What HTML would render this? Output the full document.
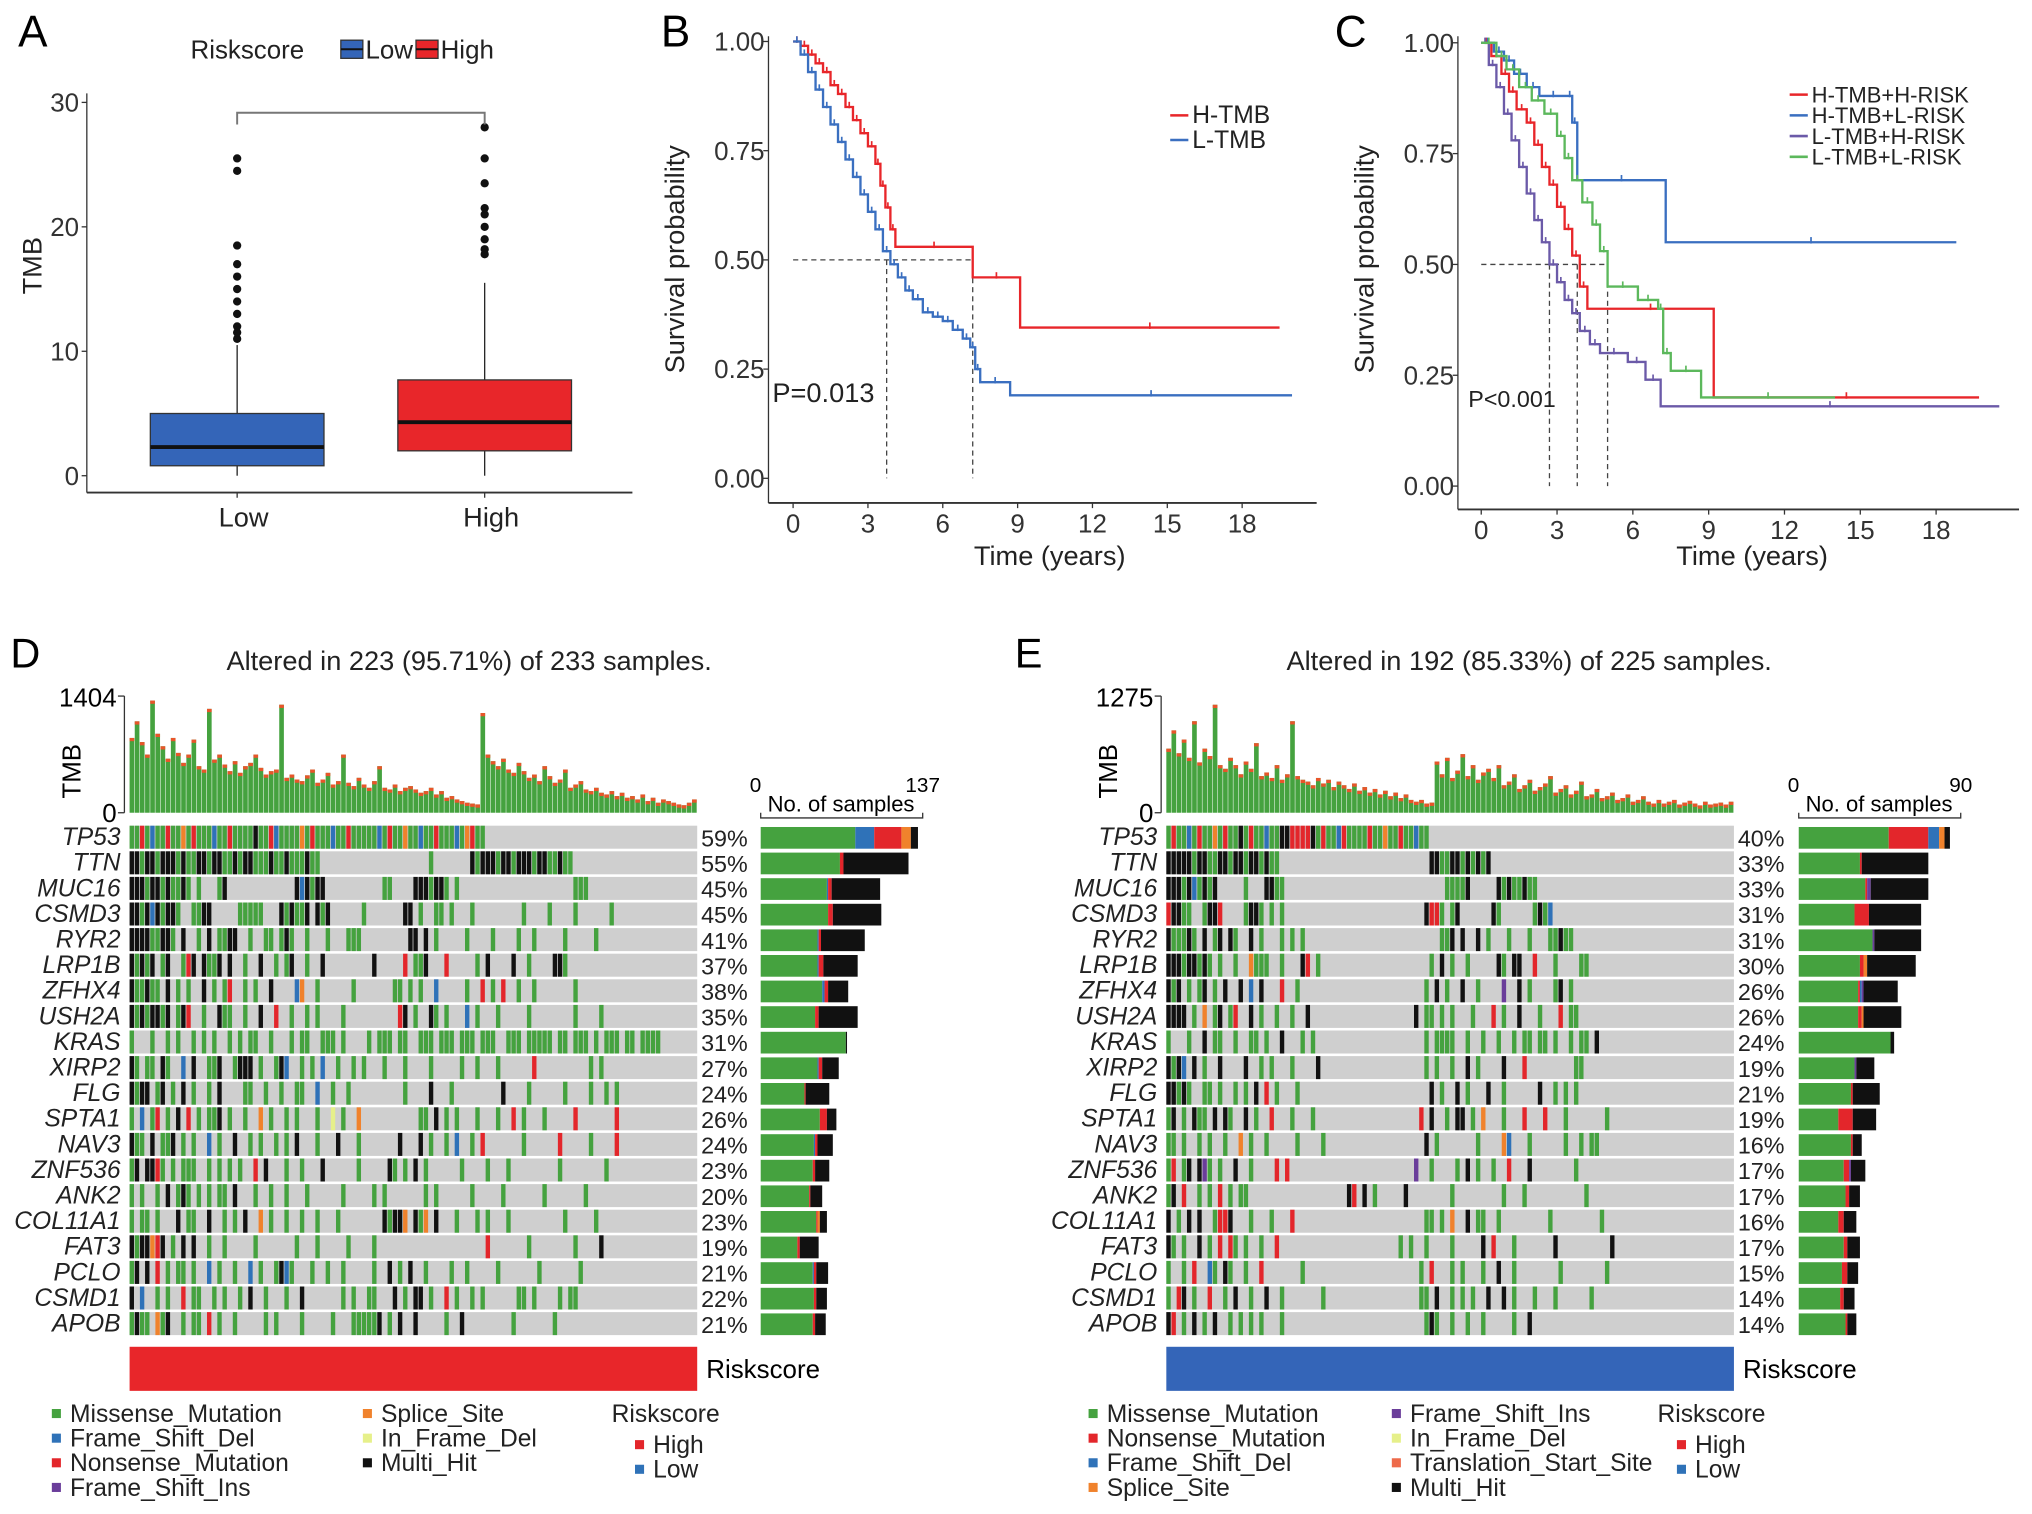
<!DOCTYPE html>
<html><head><meta charset="utf-8"><style>
html,body{margin:0;padding:0;background:#fff;}
svg{display:block;font-family:"Liberation Sans",Arial,sans-serif;}
</style></head><body>
<svg id="fig" width="2032" height="1514" viewBox="0 0 1568 1168" preserveAspectRatio="none" xmlns="http://www.w3.org/2000/svg">
<rect x="0" y="0" width="1568" height="1168" fill="#fff"/>
<g id="A"></g>
<g id="B"></g>
<g id="C"></g>
<g id="D"></g>
<g id="E"></g>
</svg>
<script>
// ---------- Panel A data ----------
const boxGroups = ["Low","High"];
const boxQ1 = [0.8, 2.0];
const boxMed = [2.3, 4.3];
const boxQ3 = [5.0, 7.7];
const boxWhiskLo = [0, 0];
const boxWhiskHi = [10.5, 15.5];
const boxOutliersLow = [11,11.5,12,13,14,15,16,17,18.5,24.5,25.5];
const boxOutliersHigh = [17.8,18.2,19,20,21,21.5,23.5,25.5,28];
const boxYTicks = [0,10,20,30];

// ---------- Panel B data ----------
const bTicksX = [0,3,6,9,12,15,18];
const bTicksY = [0,0.25,0.5,0.75,1.0];
const bHT = [0,1.0, 0.3,0.99, 0.6,0.97, 0.9,0.95, 1.2,0.93, 1.5,0.90, 1.8,0.88, 2.1,0.85, 2.4,0.82, 2.7,0.79, 3.0,0.76, 3.3,0.72, 3.5,0.67, 3.7,0.62, 3.9,0.57, 4.1,0.53, 7.2,0.46, 9.1,0.345, 19.5,0.345];
const bLT = [0,1.0, 0.3,0.97, 0.6,0.93, 0.9,0.89, 1.2,0.85, 1.5,0.81, 1.8,0.77, 2.1,0.73, 2.4,0.69, 2.7,0.65, 3.0,0.61, 3.3,0.57, 3.6,0.52, 3.9,0.49, 4.2,0.46, 4.5,0.43, 4.8,0.41, 5.2,0.38, 5.6,0.37, 6.0,0.36, 6.4,0.34, 6.8,0.32, 7.1,0.30, 7.3,0.25, 7.5,0.22, 8.7,0.19, 20,0.19];

// ---------- Panel C data ----------
const cHH = [0,1.0, 0.4,0.97, 0.8,0.93, 1.1,0.89, 1.4,0.85, 1.8,0.82, 2.1,0.77, 2.4,0.72, 2.7,0.68, 3.0,0.63, 3.3,0.58, 3.6,0.52, 3.9,0.45, 4.2,0.40, 9.2,0.20, 19.7,0.20];
const cHL = [0,1.0, 0.5,0.98, 0.9,0.96, 1.3,0.93, 1.8,0.90, 2.3,0.88, 3.4,0.88, 3.6,0.82, 3.8,0.69, 7.3,0.55, 18.8,0.55];
const cLH = [0,1.0, 0.3,0.95, 0.6,0.90, 0.9,0.84, 1.2,0.78, 1.5,0.72, 1.8,0.66, 2.1,0.60, 2.4,0.55, 2.7,0.50, 3.0,0.46, 3.3,0.42, 3.6,0.39, 3.9,0.35, 4.3,0.32, 4.7,0.30, 5.8,0.28, 6.5,0.24, 7.1,0.18, 20.5,0.18];
const cLL = [0,1.0, 0.6,0.97, 1.0,0.94, 1.5,0.90, 2.0,0.87, 2.5,0.84, 3.0,0.79, 3.3,0.74, 3.6,0.69, 4.0,0.64, 4.4,0.59, 4.7,0.53, 5.0,0.45, 6.2,0.42, 7.0,0.40, 7.2,0.30, 7.5,0.26, 8.7,0.20, 14,0.20];

// ---------- Oncoprint D data ----------
const dGenes = ["TP53","TTN","MUC16","CSMD3","RYR2","LRP1B","ZFHX4","USH2A","KRAS","XIRP2","FLG","SPTA1","NAV3","ZNF536","ANK2","COL11A1","FAT3","PCLO","CSMD1","APOB"];
const dPct = ["59%","55%","45%","45%","41%","37%","38%","35%","31%","27%","24%","26%","24%","23%","20%","23%","19%","21%","22%","21%"];
const dRows = [
"mmnmfmmnmmsmnmmmfmmnmmmmxmmnfmmmmsmnmmmfmmnmmmmmfmnmmsmmfmmnmmmfmsnmm",
"xxmxxmxxxmxmmxxmxxmmxmxxmmmxmmxmmmxmm.....................m.......xmxxxmxxmxxxmxxmmxmm",
"xxxmxxmxmmxm.m...mx.............xfxmxx...........mm....xxxmxxm.m......................mmm",
"xxmxfxmxxm..mmxx.....mmmmm...xmxmmx.xmx......m.......xx.m..mm.m...m.........m....m....m......m...",
"xxxxmmxxm.x..m.x.mmxx..m..mm.mxm..m...m...mmm.........xx.x.m.....m....m....m..m.....m.....m....",
"xmxmx.mx..mnx.xmmx.x..m..x..m.mx..m..x.........x.....n.mmx...n.....m.x....x..m....xxm......",
"xmmxmm.x.m.m..x.m.mn..m.m..x....fs..m......m.......mm.m.m..f.....m..n.m.n..m..m.......m.....",
"xmxmxxmx.mxn..m..xmm..m..x..n..m..m.m....m..........nx.m..xm.m...f.m...m.....m........m....m..",
"m...m..m.m..m.m.m..m.m.mm..m...m.mm..mmm.m....m.mmm.mm..mmm.mmm.mmm.mmm..mmm.mmmmm.mm.mmm.m.mmm.mm.mmmm",
"xm.mm.xm..f.x..mmx..mxxx.m..mxf..m.m.f..m..m.m...m...m....m.....m..m...m......n..........m.m..",
"xmxx.mx.m.x.m..m.x....mm..m..m..mm..f..m..m..........m....x...m.........x....m......m....m..m.m",
"m.f.mn.m.x.n.m.mmx.m..m..s.m..m.m...m..y.m..s...........mm.x.m.m...m...m..n.m...m.....n.......n",
"xmm.x.mmx.m.m..f.m..x..m.m..m.m.x...m...x...m.......x...x.m..m.f..m.n.......m......n.....m....n",
"mx.xxnm.m.mmm..m.m.m.m..n.x...m..m...x......m.....xm.m.x.m......m....m...m.........m........m",
"m.m..m.x.mxm.m.m.mm.x...m..m..m...m......m.....m.m.......m.m......m.....m.......m.......m",
"m.mm.m...x.mm..x..m.m.x..s.m..m..m..m...m........xmxxs.xms.x...m...m.m...m..........m.....m",
"xmxxsnx.m.x.x..m..m.....m.......m...m.....m....m.....................n.......m........m....x",
"mx.x.n.m.mm.m..f.m..m..f.m..mxfm...m..m..m.....m..x.m.x..m....m..m.....m.......m.......m",
"x.f..m.m..n.mm..m.m..m.x..m...m..x.......m.m..mm...x.m.xx.m..n.m..m.m......mm.m....m.mm..",
"mxmm.smx..m.mm.n.m..m.....m.m....m.....m...mmmmmx.m.x..x.....m..x.........m.......m...."
];
const dTmb = [900,1100,850,700,1350,950,800,650,900,720,600,700,880,560,520,1250,640,700,580,500,620,480,560,600,700,540,460,500,520,1300,420,460,400,380,450,520,360,400,480,340,380,700,360,320,420,340,300,380,560,300,280,340,260,300,320,280,240,260,300,220,260,180,200,160,140,120,110,100,1200,700,620,560,650,520,480,600,500,420,460,380,560,440,360,400,520,300,340,380,280,260,300,240,220,260,200,240,180,200,160,220,140,180,120,160,140,120,100,90,120,160];
const dSideGreen = [80,67,56,57,48,48,52,46,72,48,37,50,45,44,41,47,31,44,45,44];
const dSideRed   = [23,3,3,4,2,4,3,3,0,3,1,6,2,2,1,1,2,2,2,2];
const dSideBlue  = [16,0,1,0,1,1,2,0,0,1,0,0,1,0,0,0,0,1,0,0];
const dSideOrange= [8,0,0,0,0,0,0,0,0,0,0,0,0,0,0,2,0,0,0,0];
const dSideBlack = [6,55,41,41,37,29,17,33,1,14,20,8,13,12,10,6,16,10,9,9];

// ---------- Oncoprint E data ----------
const eGenes = dGenes.slice();
const ePct = ["40%","33%","33%","31%","31%","30%","26%","26%","24%","19%","21%","19%","16%","17%","17%","16%","17%","15%","14%","14%"];
const eRows = [
"mnmmfmnmmsmnmmxmnmmfmmxxnnnnxmnmmfnmmmmnmmsmmnmmfmm",
"xxxxxmxxmmxxmxxmxxmxmm.............................xxmmxxmxmxmx",
"xxxmxfmxmx.....m...xxmm...............................mmmmx.....xmxmmxmm",
"nxxmm..mxxn....mxxm.m.m...........................xnnm.mx......xm......mxmf",
"xmmmxm.x.mx.xm..x.m...m.m.m..........................mmx.x..x.m...m...m...mmxmm",
"xxxmxxmxm.m..m..smmm..m...xn.m.....................m.x.m..m.....xm.xx..n...m....mm",
"xmx.m.mx.m.x..x.f.x...n..m........................m.x.m..x..m....i..x.m....mx.m",
"xxxx.m.s.mx.mn..x.m..m..m..x....................x.mm.m.m...m...n.m..x...m...n.mm",
"m...m..x.mm..m..mm.m..x...m.m.....................m.mmmm..m..m..m..m.mm.mm.m..m.mm.x",
"xmxf.x.m..x....x..m.m...m....x....................m.m..m..x.m....x...n.........mm",
"xxmxm..mm.m..m.m.x.n.m...m.........................x.m..x.m...x..m......x..m.m.m",
"mx.m.xmm.x.xm..x.m..n...m...m....................n.x..m.xx.m.s...m...n...n...m.......m",
"mm.m..m.m..m..s.m..m.....m....m...................x.m.......m....sf...m......m..m.mm",
"mn.mx.xim.m..x..m....n.n........................i..m....m.x.m..m..n...x........m",
"mx.n..m.m.n.m.mm...................xn.x.m.....x........m.........m...m...........m",
"x.m.x.x..mnnx...m...m...n.........................mm.m.s..x.mm..m.........m.........m",
"xm.m..x.m.n.nm.m..m..n.......................m.m..m....m.....x.n...m.......x..........x",
"m..m.n..fm.xm..m..n.......m......................m.n...m.m...m..x..m........m........m",
"m.nx.m..n..m.x..m..x..m.......m..................mm.x..m.m.m..x..x.m...m...m......m",
"xn.m.x.m.x..m.m.m.m...m...........................mxm..m..m..m.....m..x"
];
const eTmb = [700,900,650,800,600,1000,550,700,620,1180,520,480,600,520,420,560,480,760,400,440,380,520,360,420,1000,400,360,340,300,380,320,360,280,340,300,260,320,240,280,220,260,200,240,180,220,160,200,140,120,140,100,110,560,420,600,380,460,640,400,520,360,440,480,380,520,300,340,420,260,300,360,240,280,320,400,220,260,300,200,240,340,180,200,260,160,180,220,140,160,200,120,140,180,120,100,140,100,120,140,90,110,130,100,80,120,90,100,110,90,120];
const eSideGreen = [50,34,37,31,41,34,33,33,51,31,29,22,29,25,26,22,25,24,23,26];
const eSideRed   = [22,1,1,8,0,2,1,2,0,0,1,8,1,3,2,3,2,3,2,1];
const eSideBlue  = [6,0,0,0,0,0,1,0,0,0,0,0,0,0,0,0,0,0,0,0];
const eSideOrange= [3,0,0,0,0,2,0,1,0,0,0,0,0,0,0,0,0,0,0,0];
const eSidePurple= [0,0,2,0,1,0,1,0,0,1,0,0,0,1,0,0,0,0,0,0];
const eSideBlack = [3,37,32,29,26,27,19,21,2,10,15,13,5,8,6,7,7,6,6,5];

// ---------- helpers ----------
const NS="http://www.w3.org/2000/svg";
function mk(parent, tag, attrs, text){
  const el=document.createElementNS(NS,tag);
  for(const k in attrs) el.setAttribute(k,attrs[k]);
  if(text!==undefined) el.textContent=text;
  parent.appendChild(el); return el;
}
const COL={m:"#45a23f",x:"#111111",n:"#e3262b",f:"#2f72b8",i:"#6a3d9a",s:"#f0822c",y:"#e6f08a",t:"#ee6a4a"};
const GREY="#cfcfcf";

// ---------- Panel A ----------
(function(){
  const g=document.getElementById('A');
  const y=v=>367-v*9.6;
  let t;
  t=mk(g,'text',{x:14,y:36,'font-size':34},'A');
  
  t=mk(g,'text',{x:147,y:45,'font-size':20,fill:'#222'},'Riskscore');
  
  const legC=['#3465b8','#e8262a'], legT=['Low','High'], legX=[263,321];
  for(let i=0;i<2;i++){
    let r=mk(g,'rect',{x:legX[i],y:31,width:17,height:14,fill:legC[i],stroke:'#333','stroke-width':1});
    
    mk(g,'line',{x1:legX[i],x2:legX[i]+17,y1:38,y2:38,stroke:'#111','stroke-width':1.5});
    t=mk(g,'text',{x:legX[i]+19,y:45,'font-size':20,fill:'#222'},legT[i]);
    
  }
  mk(g,'line',{x1:67,x2:67,y1:72,y2:380,stroke:'#333','stroke-width':1});
  mk(g,'line',{x1:67,x2:488,y1:380,y2:380,stroke:'#333','stroke-width':1.5});
  boxYTicks.forEach(v=>{
    mk(g,'line',{x1:63,x2:67,y1:y(v),y2:y(v),stroke:'#333'});
    t=mk(g,'text',{x:61,y:y(v)+7,'font-size':20,'text-anchor':'end',fill:'#333'},String(v));
    
  });
  t=mk(g,'text',{x:0,y:0,'font-size':21,'text-anchor':'middle',fill:'#222',transform:'translate(32,205) rotate(-90)'},'TMB');
  
  const cx=[183,374], cols=['#3465b8','#e8262a'], outs=[boxOutliersLow,boxOutliersHigh];
  for(let i=0;i<2;i++){
    mk(g,'line',{x1:cx[i],x2:cx[i],y1:y(boxWhiskHi[i]),y2:y(boxQ3[i]),stroke:'#222'});
    mk(g,'line',{x1:cx[i],x2:cx[i],y1:y(boxQ1[i]),y2:y(boxWhiskLo[i]),stroke:'#222'});
    let r=mk(g,'rect',{x:cx[i]-67,y:y(boxQ3[i]),width:134,height:y(boxQ1[i])-y(boxQ3[i]),fill:cols[i],stroke:'#333','stroke-width':1});
    
    mk(g,'line',{x1:cx[i]-67,x2:cx[i]+67,y1:y(boxMed[i]),y2:y(boxMed[i]),stroke:'#111','stroke-width':3});
    outs[i].forEach(v=>{
      let c=mk(g,'circle',{cx:cx[i],cy:y(v),r:3.2,fill:'#111'});
      
    });
    mk(g,'line',{x1:cx[i],x2:cx[i],y1:380,y2:384,stroke:'#333'});
    t=mk(g,'text',{x:cx[i]+5,y:406,'font-size':21,'text-anchor':'middle',fill:'#222'},boxGroups[i]);
    
  }
  let p=mk(g,'path',{d:'M183,96 V87 H374 V96',fill:'none',stroke:'#777','stroke-width':1.5});
  
})();

// ---------- KM panels ----------
function km(gid,opt){
  const g=document.getElementById(gid);
  const X=t=>opt.x0+t*opt.xs, Y=s=>opt.y0-s*opt.ys;
  let t=mk(g,'text',{x:opt.lx,y:36,'font-size':34},opt.label);
  
  mk(g,'line',{x1:opt.ax,x2:opt.ax,y1:28,y2:opt.axY,stroke:'#333'});
  mk(g,'line',{x1:opt.ax,x2:opt.axR,y1:opt.axY,y2:opt.axY,stroke:'#333','stroke-width':1.5});
  bTicksY.forEach(v=>{
    mk(g,'line',{x1:opt.ax-4,x2:opt.ax,y1:Y(v),y2:Y(v),stroke:'#333'});
    t=mk(g,'text',{x:opt.ax-3,y:Y(v)+7,'font-size':20,'text-anchor':'end',fill:'#333'},v.toFixed(2));
    
  });
  bTicksX.forEach(v=>{
    mk(g,'line',{x1:X(v),x2:X(v),y1:opt.axY,y2:opt.axY+4,stroke:'#333'});
    t=mk(g,'text',{x:X(v),y:opt.axY+23,'font-size':20,'text-anchor':'middle',fill:'#333'},String(v));
    
  });
  t=mk(g,'text',{x:opt.xt,y:436,'font-size':21,'text-anchor':'middle',fill:'#222'},'Time (years)');
  
  t=mk(g,'text',{x:0,y:0,'font-size':21,'text-anchor':'middle',fill:'#222',transform:'translate('+opt.yt+',200) rotate(-90)'},'Survival probability');
  
  mk(g,'line',{x1:X(0),x2:X(opt.medians[opt.medians.length-1]),y1:Y(0.5),y2:Y(0.5),stroke:'#444','stroke-dasharray':'4,3'});
  opt.medians.forEach(m=>mk(g,'line',{x1:X(m),x2:X(m),y1:Y(0.5),y2:Y(0),stroke:'#444','stroke-dasharray':'4,3'}));
  opt.series.forEach((s,si)=>{
    const a=s.d; let d='M'+X(a[0])+','+Y(a[1]);
    for(let i=2;i<a.length;i+=2){ d+=' H'+X(a[i])+' V'+Y(a[i+1]); }
    let p=mk(g,'path',{d:d,fill:'none',stroke:s.c,'stroke-width':1.8});
    
    for(let i=2;i<a.length;i+=2){
      const tx=(a[i-2]+a[i])/2;
      mk(g,'line',{x1:X(tx),x2:X(tx),y1:Y(a[i-1])-4,y2:Y(a[i-1])+1,stroke:s.c,'stroke-width':1.3});
    }
    mk(g,'line',{x1:opt.legX,x2:opt.legX+14,y1:opt.legY+si*opt.legDy-6,y2:opt.legY+si*opt.legDy-6,stroke:s.c,'stroke-width':2});
    t=mk(g,'text',{x:opt.legX+17,y:opt.legY+si*opt.legDy,'font-size':opt.legFs,fill:'#222'},s.n);
    
  });
  t=mk(g,'text',{x:opt.px,y:opt.py,'font-size':opt.pfs,fill:'#222'},opt.ptext);
  
}
km('B',{label:'B',lx:510,ax:593,axR:1016,axY:388,x0:612,xs:19.25,y0:369,ys:337,xt:810,yt:528,
  medians:[3.75,7.2],legX:903,legY:95,legDy:19,legFs:19,px:596,py:310,pfs:21,ptext:'P=0.013',
  series:[{n:'H-TMB',c:'#e8262a',d:bHT},{n:'L-TMB',c:'#3a6fc0',d:bLT}]});
km('C',{label:'C',lx:1030,ax:1125,axR:1558,axY:393,x0:1143,xs:19.5,y0:375,ys:342,xt:1352,yt:1060,
  medians:[2.7,3.8,5.0],legX:1381,legY:79,legDy:16,legFs:17,px:1133,py:314,pfs:18,ptext:'P<0.001',
  series:[{n:'H-TMB+H-RISK',c:'#e8262a',d:cHH},{n:'H-TMB+L-RISK',c:'#3a6fc0',d:cHL},{n:'L-TMB+H-RISK',c:'#6b5aa8',d:cLH},{n:'L-TMB+L-RISK',c:'#5cb85c',d:cLL}]});

// ---------- Oncoprints ----------
function onco(gid,o){
  const g=document.getElementById(gid);
  const N=110, mx0=o.mx, mw=438, cw=mw/N, rowH=19.75, top=637;
  let t=mk(g,'text',{x:o.lx,y:515,'font-size':32},o.label);
  
  t=mk(g,'text',{x:o.tx,y:517,'font-size':21,'text-anchor':'middle',fill:'#222'},o.title);
  
  const ty=v=>627-v/o.tmbMax*90;
  mk(g,'line',{x1:mx0-4,x2:mx0-4,y1:537,y2:627,stroke:'#333'});
  mk(g,'line',{x1:mx0-9,x2:mx0-4,y1:537,y2:537,stroke:'#333'});
  mk(g,'line',{x1:mx0-9,x2:mx0-4,y1:627,y2:627,stroke:'#333'});
  t=mk(g,'text',{x:mx0-10,y:545,'font-size':20,'text-anchor':'end'},String(o.tmbMax));
  
  t=mk(g,'text',{x:mx0-10,y:634,'font-size':20,'text-anchor':'end'},'0');
  
  t=mk(g,'text',{x:0,y:0,'font-size':20,'text-anchor':'middle',transform:'translate('+(mx0-38)+',595) rotate(-90)'},'TMB');
  
  o.tmb.forEach((v,i)=>{
    if(i>=N) return;
    let r=mk(g,'rect',{x:mx0+i*cw,y:ty(v),width:cw*0.9,height:627-ty(v),fill:'#45a23f'});
    
    mk(g,'rect',{x:mx0+i*cw,y:ty(v),width:cw*0.9,height:2.5,fill:'#e8552a'});
  });
  o.genes.forEach((gn,ri)=>{
    const y=top+ri*rowH;
    let bg=mk(g,'rect',{x:mx0,y:y,width:mw,height:rowH-2,fill:GREY});
    
    const s=o.rows[ri];
    for(let i=0;i<Math.min(N,s.length);i++){
      const c=s[i]; if(c==='.') continue;
      let r=mk(g,'rect',{x:mx0+i*cw,y:y,width:cw*0.85,height:rowH-2,fill:COL[c]});
      
    }
    t=mk(g,'text',{x:mx0-7,y:y+15,'font-size':19,'font-style':'italic','text-anchor':'end',fill:'#222'},gn);
    
    t=mk(g,'text',{x:mx0+mw+3,y:y+16,'font-size':18,fill:'#222'},o.pct[ri]);
    
    let sx=o.sx; const sc=125/o.sideMax;
    o.side.forEach(st=>{
      const w=st.v[ri]*sc; if(w<=0) return;
      let r=mk(g,'rect',{x:sx,y:y+1,width:w,height:rowH-3,fill:st.c});
      
      sx+=w;
    });
  });
  mk(g,'path',{d:'M'+o.sx+',627 V631 H'+(o.sx+125)+' V627',fill:'none',stroke:'#333'});
  t=mk(g,'text',{x:o.sx-4,y:611,'font-size':16,'text-anchor':'middle'},'0');
  
  t=mk(g,'text',{x:o.sx+125,y:611,'font-size':16,'text-anchor':'middle'},String(o.sideMax));
  
  t=mk(g,'text',{x:o.sx+62,y:626,'font-size':17,'text-anchor':'middle'},'No. of samples');
  
  let rb=mk(g,'rect',{x:mx0,y:1039,width:mw,height:34,fill:o.riskC});
  
  t=mk(g,'text',{x:mx0+mw+7,y:1063,'font-size':20},'Riskscore');
  
  o.legend.forEach(L=>{
    mk(g,'rect',{x:L[0],y:L[1]-10,width:7,height:7,fill:L[3]});
    t=mk(g,'text',{x:L[0]+14,y:L[1],'font-size':19,fill:'#222'},L[2]);
    
  });
  t=mk(g,'text',{x:o.rsx,y:1097,'font-size':19,fill:'#222'},'Riskscore');
  
}
onco('D',{label:'D',lx:8,tx:362,title:'Altered in 223 (95.71%) of 233 samples.',mx:100,tmbMax:1404,tmb:dTmb,
  genes:dGenes,rows:dRows,pct:dPct,sx:587,sideMax:137,riskC:'#e8262a',rsx:472,
  side:[{c:'#45a23f',v:dSideGreen},{c:'#2f72b8',v:dSideBlue},{c:'#e3262b',v:dSideRed},{c:'#f0822c',v:dSideOrange},{c:'#111',v:dSideBlack}],
  legend:[[40,1097,'Missense_Mutation','#45a23f'],[40,1116,'Frame_Shift_Del','#2f72b8'],[40,1135,'Nonsense_Mutation','#e3262b'],[40,1154,'Frame_Shift_Ins','#6a3d9a'],
          [280,1097,'Splice_Site','#f0822c'],[280,1116,'In_Frame_Del','#e6f08a'],[280,1135,'Multi_Hit','#111'],
          [490,1121,'High','#e3262b'],[490,1140,'Low','#2f72b8']]});
onco('E',{label:'E',lx:783,tx:1180,title:'Altered in 192 (85.33%) of 225 samples.',mx:900,tmbMax:1275,tmb:eTmb,
  genes:eGenes,rows:eRows,pct:ePct,sx:1388,sideMax:90,riskC:'#3465b8',rsx:1279,
  side:[{c:'#45a23f',v:eSideGreen},{c:'#e3262b',v:eSideRed},{c:'#2f72b8',v:eSideBlue},{c:'#f0822c',v:eSideOrange},{c:'#6a3d9a',v:eSidePurple},{c:'#111',v:eSideBlack}],
  legend:[[840,1097,'Missense_Mutation','#45a23f'],[840,1116,'Nonsense_Mutation','#e3262b'],[840,1135,'Frame_Shift_Del','#2f72b8'],[840,1154,'Splice_Site','#f0822c'],
          [1074,1097,'Frame_Shift_Ins','#6a3d9a'],[1074,1116,'In_Frame_Del','#e6f08a'],[1074,1135,'Translation_Start_Site','#ee6a4a'],[1074,1154,'Multi_Hit','#111'],
          [1294,1121,'High','#e3262b'],[1294,1140,'Low','#2f72b8']]});
</script>
</body></html>
